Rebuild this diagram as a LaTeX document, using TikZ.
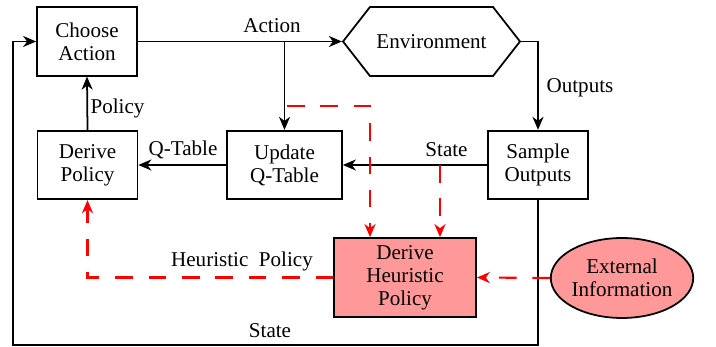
\documentclass[tikz,border=0pt]{standalone}
\usepackage{fontspec}
\setmainfont{Liberation Serif}
\usetikzlibrary{arrows.meta,shapes.geometric,shapes.symbols}

\begin{document}
\begin{tikzpicture}[x=0.02cm, y=-0.02cm, font=\fontsize{12}{13}\selectfont]
        \tikzstyle{procbox} = [rectangle, draw, line width=1pt, align=center, inner sep=0pt, minimum width=2cm, minimum height=1.37cm]
        \tikzstyle{heurbox} = [procbox, fill=red!40, minimum width=2.84cm, minimum height=1.58cm]
        \tikzstyle{envbox} = [signal, signal to=west and east, signal pointer angle=104, draw, line width=1pt, inner sep=0pt, minimum width=3.54cm, minimum height=1.38cm]
        \tikzstyle{extinfo} = [ellipse, draw, line width=1pt, fill=red!40, align=center, inner sep=0pt, minimum width=2.84cm, minimum height=1.6cm]
        \tikzstyle{flow} = [draw, line width=1pt, -{Stealth[length=2.6mm, width=2.2mm, inset=0.8mm]}]
        \tikzstyle{heur} = [draw=red, line width=1.2pt, dash pattern=on 10pt off 9pt, -{Stealth[length=2.6mm, width=2.2mm, inset=0.8mm]}]
        \tikzstyle{lbl} = [inner sep=0pt]
        \useasboundingbox (0,0) rectangle (716,347);
        \node[procbox] (choose) at (87,41.5) {Choose\\Action};
        \node[envbox] (env) at (431.5,41.5) {Environment};
        \node[procbox] (samp) at (538,165) {Sample\\Outputs};
        \node[procbox, minimum width=2.3cm] (qtab) at (284.5,165) {Update\\Q-Table};
        \node[procbox] (dpol) at (87.5,165) {Derive\\Policy};
        \node[heurbox] (dhp) at (405,277.5) {Derive\\Heuristic\\Policy};
        \node[extinfo] (ext) at (622,278) {External\\Information};
        \coordinate (tapA) at (287,106);
        \coordinate (loopB) at (13,345);
        % main loop
        \draw[flow] (choose.east) -- (env.west);
        \draw[flow] (qtab.north |- choose.east) -- (qtab.north);
        \draw[flow] (env.east) -| (samp.north);
        \draw[flow] (samp.west) -- (qtab.east);
        \draw[flow] (qtab.west) -- (dpol.east);
        \draw[flow] (dpol.north) -- (choose.south);
        \draw[flow] (samp.south) |- (loopB) |- (choose.west);
        % heuristic path
        \draw[heur] (tapA) -| ([xshift=-0.7cm]dhp.north);
        \draw[heur] ([xshift=0.7cm]dhp.north |- samp.west) -- ([xshift=0.7cm]dhp.north);
        \draw[heur] (ext.west) -- (dhp.east);
        \draw[heur] (dhp.west) -| (dpol.south);
        \node[lbl] (lAction) at (272,26) {Action};
        \node[lbl] (lOutputs) at (580,88) {Outputs};
        \node[lbl] (lPolicy) at (117.5,108) {Policy};
        \node[lbl] (lQtab) at (183,149.5) {Q-Table};
        \node[lbl] (lState) at (446.5,150) {State};
        \node[lbl] (lHeur) at (242,261.5) {Heuristic\hspace{0.25em} Policy};
        \node[lbl] (lLoop) at (270,331) {State};
\end{tikzpicture}
\end{document}
